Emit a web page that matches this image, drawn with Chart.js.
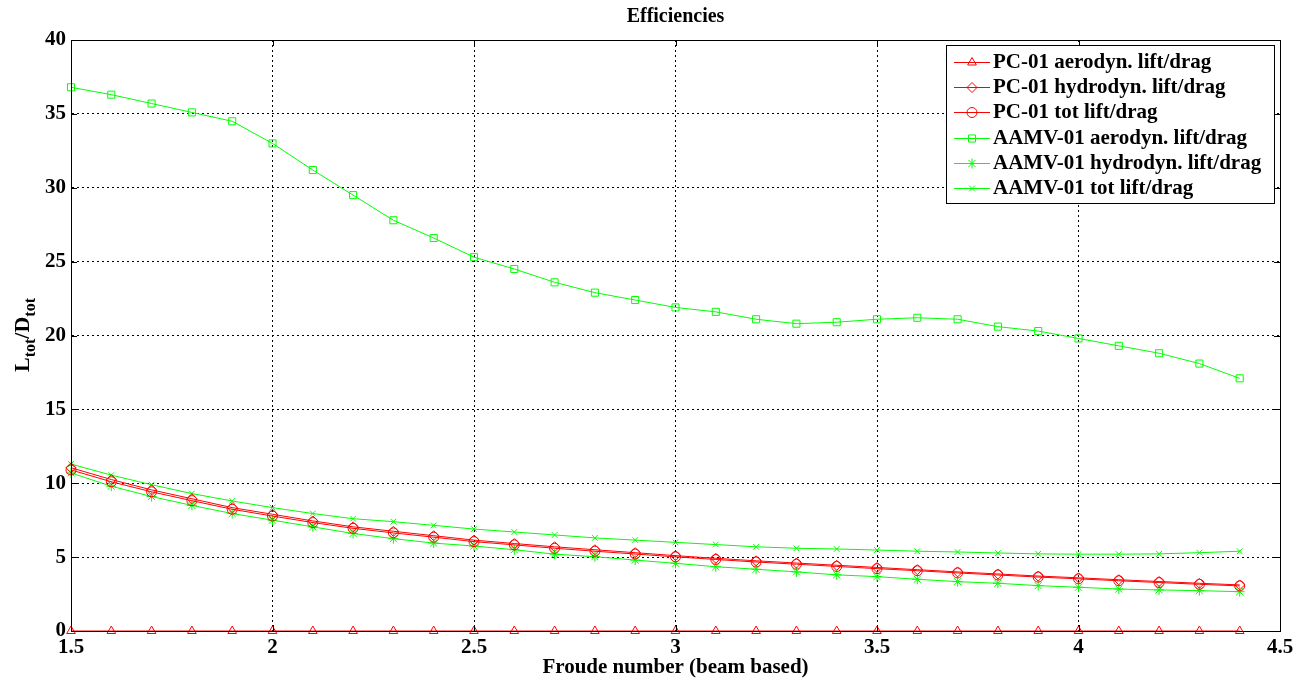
<!DOCTYPE html>
<html>
<head>
<meta charset="utf-8">
<script src="https://cdn.jsdelivr.net/npm/chart.js@4.4.1/dist/chart.umd.min.js"></script>
<style>
  html, body { margin: 0; padding: 0; background: #fff; }
  #wrap { width: 1310px; height: 686px; }
</style>
</head>
<body>
<div id="wrap"><canvas id="eff"></canvas></div>
<script>
// Froude number (beam based) sample points
const froude = [1.5, 1.6, 1.7, 1.8, 1.9, 2.0, 2.1, 2.2, 2.3, 2.4,
                2.5, 2.6, 2.7, 2.8, 2.9, 3.0, 3.1, 3.2, 3.3, 3.4,
                3.5, 3.6, 3.7, 3.8, 3.9, 4.0, 4.1, 4.2, 4.3, 4.4];

const pcAero  = [0, 0, 0, 0, 0, 0, 0, 0, 0, 0,
                 0, 0, 0, 0, 0, 0, 0, 0, 0, 0,
                 0, 0, 0, 0, 0, 0, 0, 0, 0, 0];
const pcHydro = [11.05, 10.25, 9.55, 8.95, 8.35, 7.9, 7.45, 7.05, 6.75, 6.45,
                 6.15, 5.92, 5.7, 5.5, 5.3, 5.1, 4.92, 4.75, 4.6, 4.45,
                 4.3, 4.15, 4.0, 3.86, 3.72, 3.6, 3.47, 3.35, 3.23, 3.12];
const pcTot   = [10.9, 10.1, 9.42, 8.82, 8.24, 7.78, 7.34, 6.95, 6.64, 6.35,
                 6.05, 5.83, 5.6, 5.4, 5.21, 5.02, 4.84, 4.67, 4.52, 4.37,
                 4.22, 4.08, 3.93, 3.79, 3.65, 3.53, 3.4, 3.28, 3.16, 3.05];
const aamvAero  = [36.8, 36.3, 35.7, 35.1, 34.5, 33.0, 31.2, 29.5, 27.8, 26.6,
                   25.3, 24.5, 23.6, 22.9, 22.4, 21.9, 21.6, 21.1, 20.8, 20.9,
                   21.1, 21.2, 21.1, 20.6, 20.3, 19.8, 19.3, 18.8, 18.1, 17.1];
const aamvHydro = [10.7, 9.8, 9.1, 8.5, 7.95, 7.5, 7.05, 6.6, 6.25, 5.95,
                   5.75, 5.5, 5.2, 5.03, 4.8, 4.58, 4.35, 4.18, 4.0, 3.8,
                   3.68, 3.5, 3.34, 3.23, 3.07, 2.96, 2.84, 2.78, 2.73, 2.66];
const aamvTot   = [11.3, 10.55, 9.9, 9.3, 8.8, 8.35, 7.95, 7.6, 7.4, 7.15,
                   6.9, 6.7, 6.5, 6.3, 6.15, 6.0, 5.85, 5.7, 5.6, 5.55,
                   5.48, 5.4, 5.35, 5.28, 5.22, 5.2, 5.2, 5.22, 5.3, 5.4];

const xTicks = [1.5, 2, 2.5, 3, 3.5, 4, 4.5];
const yTicks = [0, 5, 10, 15, 20, 25, 30, 35, 40];

const RED = '#ff0000';
const GREEN = '#00ff00';
const SERIF = '"Liberation Serif", "Times New Roman", serif';

function series(label, values, color, style, radius) {
  return {
    label: label,
    data: froude.map((x, i) => ({ x: x, y: values[i] })),
    borderColor: color,
    backgroundColor: color,
    pointBorderColor: color,
    pointBackgroundColor: 'rgba(0,0,0,0)',
    pointStyle: style,
    pointRadius: radius,
    pointBorderWidth: 1,
    borderWidth: 1,
    tension: 0,
    clip: false
  };
}

// axes box, title, y label with subscripts, and legend inside the axes
const matlabLook = {
  id: 'matlabLook',
  afterDatasetsDraw(chart) {
    const { ctx, chartArea: a } = chart;
    ctx.save();
    ctx.strokeStyle = '#000';
    ctx.lineWidth = 1;
    ctx.strokeRect(a.left + 0.5, a.top + 0.5, a.right - a.left, a.bottom - a.top);
    // small inward tick marks on all four sides
    const xs = chart.scales.x, ys = chart.scales.y;
    ctx.beginPath();
    xTicks.forEach(v => {
      const px = Math.round(xs.getPixelForValue(v)) + 0.5;
      ctx.moveTo(px, a.bottom); ctx.lineTo(px, a.bottom - 6);
      ctx.moveTo(px, a.top); ctx.lineTo(px, a.top + 6);
    });
    yTicks.forEach(v => {
      const py = Math.round(ys.getPixelForValue(v)) + 0.5;
      ctx.moveTo(a.left, py); ctx.lineTo(a.left + 6, py);
      ctx.moveTo(a.right, py); ctx.lineTo(a.right - 6, py);
    });
    ctx.stroke();
    ctx.restore();
  },
  afterDraw(chart) {
    const { ctx, chartArea: a } = chart;
    ctx.save();
    ctx.fillStyle = '#000';

    // title
    ctx.font = 'bold 20px ' + SERIF;
    ctx.textAlign = 'center';
    ctx.textBaseline = 'middle';
    ctx.fillText('Efficiencies', (a.left + a.right) / 2, 17);

    // x axis title
    ctx.font = 'bold 21px ' + SERIF;
    ctx.fillText('Froude number (beam based)', (a.left + a.right) / 2, 668);

    // y axis title: L_tot / D_tot
    ctx.save();
    ctx.translate(29, 335);
    ctx.rotate(-Math.PI / 2);
    const big = 'bold 22px ' + SERIF;
    const small = 'bold 16px ' + SERIF;
    const parts = [['L', big, 0], ['tot', small, 6], ['/D', big, 0], ['tot', small, 6]];
    let w = 0;
    parts.forEach(p => { ctx.font = p[1]; w += ctx.measureText(p[0]).width; });
    let x = -w / 2;
    ctx.textAlign = 'left';
    ctx.textBaseline = 'alphabetic';
    parts.forEach(p => {
      ctx.font = p[1];
      ctx.fillText(p[0], x, p[2]);
      x += ctx.measureText(p[0]).width;
    });
    ctx.restore();

    // legend
    const bx = 946, by = 45, bw = 328, bh = 158, rowH = 25.2;
    ctx.fillStyle = '#fff';
    ctx.fillRect(bx, by, bw, bh);
    ctx.strokeStyle = '#000';
    ctx.lineWidth = 1;
    ctx.strokeRect(bx + 0.5, by + 0.5, bw, bh);
    ctx.font = 'bold 21px ' + SERIF;
    ctx.textAlign = 'left';
    ctx.textBaseline = 'middle';
    chart.data.datasets.forEach((ds, i) => {
      const y = Math.round(by + 17 + i * rowH);
      ctx.strokeStyle = ds.borderColor;
      ctx.lineWidth = 1;
      ctx.beginPath();
      ctx.moveTo(954, y + 0.5);
      ctx.lineTo(990, y + 0.5);
      ctx.stroke();
      ctx.fillStyle = 'rgba(0,0,0,0)';
      Chart.helpers.drawPoint(ctx, {
        pointStyle: ds.pointStyle,
        radius: ds.pointRadius,
        borderWidth: 1,
        rotation: 0
      }, 972, y + 0.5);
      ctx.fillStyle = '#000';
      ctx.fillText(ds.label, 993, y + 1);
    });
    ctx.restore();
  }
};

new Chart(document.getElementById('eff'), {
  type: 'line',
  data: {
    datasets: [
      series('PC-01 aerodyn. lift/drag', pcAero, RED, 'triangle', 5),
      series('PC-01 hydrodyn. lift/drag', pcHydro, RED, 'rectRot', 5),
      series('PC-01 tot lift/drag', pcTot, RED, 'circle', 5),
      series('AAMV-01 aerodyn. lift/drag', aamvAero, GREEN, 'rect', 5),
      series('AAMV-01 hydrodyn. lift/drag', aamvHydro, GREEN, 'star', 5),
      series('AAMV-01 tot lift/drag', aamvTot, GREEN, 'crossRot', 4)
    ]
  },
  options: {
    responsive: true,
    maintainAspectRatio: false,
    animation: false,
    layout: { padding: { top: 40, right: 30, left: 0, bottom: 0 } },
    plugins: {
      legend: { display: false },
      title: { display: false },
      tooltip: { enabled: false }
    },
    scales: {
      x: {
        type: 'linear',
        min: 1.5,
        max: 4.5,
        afterBuildTicks: s => { s.ticks = xTicks.map(v => ({ value: v })); },
        afterFit: s => { s.height = 55; },
        ticks: {
          color: '#000',
          padding: 4,
          font: { family: SERIF, size: 21, weight: 'bold' },
          maxRotation: 0,
          callback: v => String(v)
        },
        grid: { color: '#000', tickLength: 0, drawTicks: false },
        border: { display: true, color: '#000', dash: [2, 3] }
      },
      y: {
        min: 0,
        max: 40,
        afterBuildTicks: s => { s.ticks = yTicks.map(v => ({ value: v })); },
        afterFit: s => { s.width = 71; },
        ticks: {
          color: '#000',
          padding: 5,
          font: { family: SERIF, size: 21, weight: 'bold' }
        },
        grid: { color: '#000', tickLength: 0, drawTicks: false },
        border: { display: true, color: '#000', dash: [2, 3] }
      }
    }
  },
  plugins: [matlabLook]
});
</script>
</body>
</html>
